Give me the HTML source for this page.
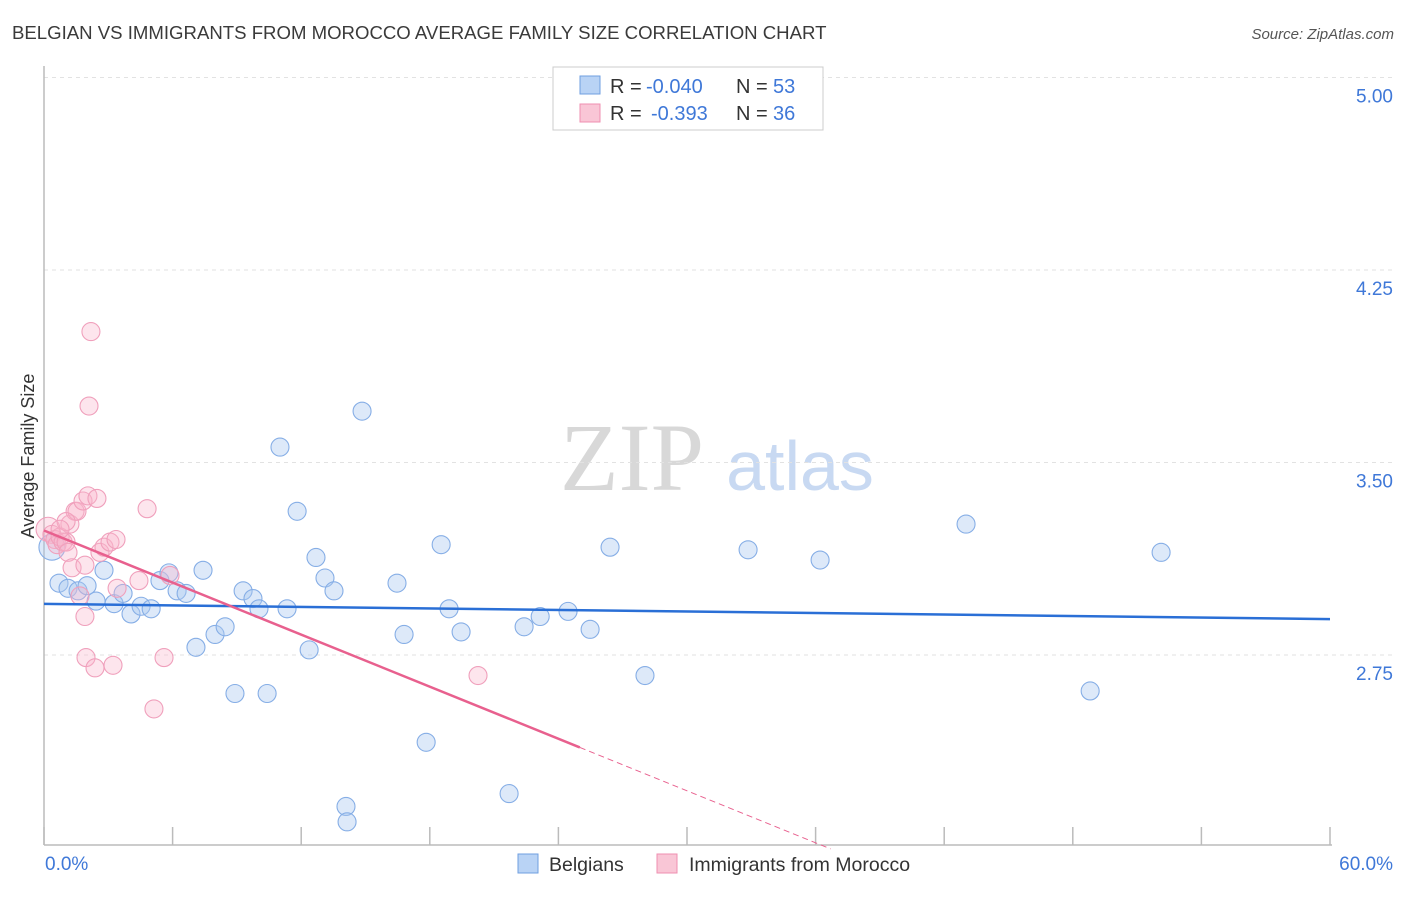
<!DOCTYPE html>
<html><head><meta charset="utf-8"><style>
body{margin:0;background:#fff;font-family:"Liberation Sans",sans-serif;}
</style></head><body>
<svg id="c" width="1406" height="892" viewBox="0 0 1406 892" xmlns="http://www.w3.org/2000/svg">
<text x="12" y="39" font-size="18.6" fill="#3a3a3a">BELGIAN VS IMMIGRANTS FROM MOROCCO AVERAGE FAMILY SIZE CORRELATION CHART</text>
<text x="1394" y="39" font-size="15" fill="#555" text-anchor="end" font-style="italic">Source: ZipAtlas.com</text>
<g>
<text x="632" y="490" font-size="96" font-family="Liberation Serif,serif" fill="#d8d8d8" text-anchor="middle">ZIP</text>
<text x="800" y="490" font-size="70" fill="#c8d9f2" text-anchor="middle">atlas</text>
</g>
<g id="grid"></g>
<g id="axes"></g>
<g id="marks"></g>
<text transform="translate(34,456) rotate(-90)" font-size="18" fill="#333" text-anchor="middle">Average Family Size</text>
<g>
<rect x="553" y="67" width="270" height="63" fill="#fff" stroke="#ccc"/>
<rect x="580" y="76" width="20" height="18" fill="#b9d3f5" stroke="#6f9fe0"/>
<text x="610" y="93" font-size="20" fill="#333">R =</text>
<text x="646" y="93" font-size="20" fill="#3f78d8">-0.040</text>
<text x="736" y="93" font-size="20" fill="#333">N =</text>
<text x="773" y="93" font-size="20" fill="#3f78d8">53</text>
<rect x="580" y="104" width="20" height="18" fill="#f9c6d6" stroke="#ef8fb0"/>
<text x="610" y="120" font-size="20" fill="#333">R =</text>
<text x="651" y="120" font-size="20" fill="#3f78d8">-0.393</text>
<text x="736" y="120" font-size="20" fill="#333">N =</text>
<text x="773" y="120" font-size="20" fill="#3f78d8">36</text>
</g>
<g>
<rect x="518" y="854" width="20" height="19" fill="#b9d3f5" stroke="#6f9fe0"/>
<text x="549" y="871" font-size="19.5" fill="#333">Belgians</text>
<rect x="657" y="854" width="20" height="19" fill="#f9c6d6" stroke="#ef8fb0"/>
<text x="689" y="871" font-size="19.5" fill="#333">Immigrants from Morocco</text>
</g>
</svg>
<script>
const yTicks=[5.00,4.25,3.50,2.75];
const yTickLabels=["5.00","4.25","3.50","2.75"];
const xTickLabels=["0.0%","60.0%"];
const belX=[0.70,1.12,1.59,2.01,2.43,2.80,3.27,3.69,4.06,4.53,5.00,5.41,5.83,6.21,6.63,7.09,7.42,7.98,8.45,8.91,9.29,9.75,10.03,10.41,11.01,11.34,11.81,12.37,12.69,13.11,13.53,14.84,16.47,16.80,17.83,18.53,18.90,19.46,21.70,22.40,23.15,14.09,14.14,24.45,25.48,26.41,28.04,32.85,36.21,43.02,48.81,52.12,0.37];
const belY=[3.03,3.01,3.00,3.02,2.96,3.08,2.95,2.99,2.91,2.94,2.93,3.04,3.07,3.00,2.99,2.78,3.08,2.83,2.86,2.60,3.00,2.97,2.93,2.60,3.56,2.93,3.31,2.77,3.13,3.05,3.00,3.70,3.03,2.83,2.41,3.18,2.93,2.84,2.21,2.86,2.90,2.16,2.10,2.92,2.85,3.17,2.67,3.16,3.12,3.26,2.61,3.15,3.17];
const morX=[0.19,0.37,0.51,0.61,0.75,0.89,1.03,1.12,1.21,1.31,1.45,1.54,1.68,1.82,1.91,1.96,2.05,2.19,2.10,2.38,2.47,2.61,2.80,3.08,3.22,3.36,3.41,4.43,4.81,5.13,5.60,5.88,20.25,1.91,1.03,0.75];
const morY=[3.24,3.22,3.20,3.18,3.21,3.19,3.19,3.15,3.26,3.09,3.31,3.31,2.98,3.35,2.90,2.74,3.37,4.01,3.72,2.70,3.36,3.15,3.17,3.19,2.71,3.20,3.01,3.04,3.32,2.54,2.74,3.06,2.67,3.10,3.27,3.24];
const belTrend=[2.949,2.890];
const morTrend=[3.235,-0.0338];
const NS="http://www.w3.org/2000/svg";
const X0=44,X1=1330,Y5=77.5,PX=256.67;
function sx(v){return X0+v*(X1-X0)/60;}
function sy(v){return Y5+(5-v)*PX;}
function mk(t,a,p){const e=document.createElementNS(NS,t);for(const k in a)e.setAttribute(k,a[k]);p.appendChild(e);return e;}
const grid=document.getElementById('grid'),axes=document.getElementById('axes'),marks=document.getElementById('marks');
yTicks.forEach((v,i)=>{
 const l=mk('line',{x1:X0,x2:1393,y1:sy(v),y2:sy(v),stroke:'#e2e2e2','stroke-dasharray':'4,4'},grid);
 
 
 const t=mk('text',{x:1393,y:sy(v)+25,'font-size':19,fill:'#3f78d8','text-anchor':'end'},grid);
 t.textContent=yTickLabels[i];
 
 
});
mk('line',{x1:X0,x2:X0,y1:66,y2:845,stroke:'#bbb','stroke-width':1.5},axes);
mk('line',{x1:X0,x2:X1+2,y1:845,y2:845,stroke:'#bbb','stroke-width':1.5},axes);
for(let i=0;i<=10;i++){const t=mk('line',{x1:sx(i*6),x2:sx(i*6),y1:827,y2:845,stroke:'#bbb','stroke-width':1.5},axes);
 
 }
const xl0=mk('text',{x:45,y:870,'font-size':19,fill:'#3f78d8'},axes);xl0.textContent=xTickLabels[0];


const xl1=mk('text',{x:1393,y:870,'font-size':19,fill:'#3f78d8','text-anchor':'end'},axes);xl1.textContent=xTickLabels[1];


belX.forEach((x,i)=>{const c=mk('circle',{cx:sx(x),cy:sy(belY[i]),r:i==belX.length-1?13:9,fill:'rgba(170,200,240,0.4)',stroke:'#86aee6','stroke-width':1.1},marks);
 
 });
morX.forEach((x,i)=>{const c=mk('circle',{cx:sx(x),cy:sy(morY[i]),r:i==0?12:9,fill:'rgba(248,180,202,0.35)',stroke:'#f0a0bc','stroke-width':1.1},marks);
 
 });
const bl=mk('line',{x1:sx(0),y1:sy(belTrend[0]),x2:sx(60),y2:sy(belTrend[1]),stroke:'#2a6fd6','stroke-width':2.5},marks);


const xs=25,xe=36.7;
const pl=mk('line',{x1:sx(0),y1:sy(morTrend[0]),x2:sx(xs),y2:sy(morTrend[0]+morTrend[1]*xs),stroke:'#e8608e','stroke-width':2.5},marks);


const pd=mk('line',{x1:sx(xs),y1:sy(morTrend[0]+morTrend[1]*xs),x2:sx(xe),y2:sy(morTrend[0]+morTrend[1]*xe),stroke:'#e8608e','stroke-width':1,'stroke-dasharray':'6,4'},marks);


</script>
</body></html>
